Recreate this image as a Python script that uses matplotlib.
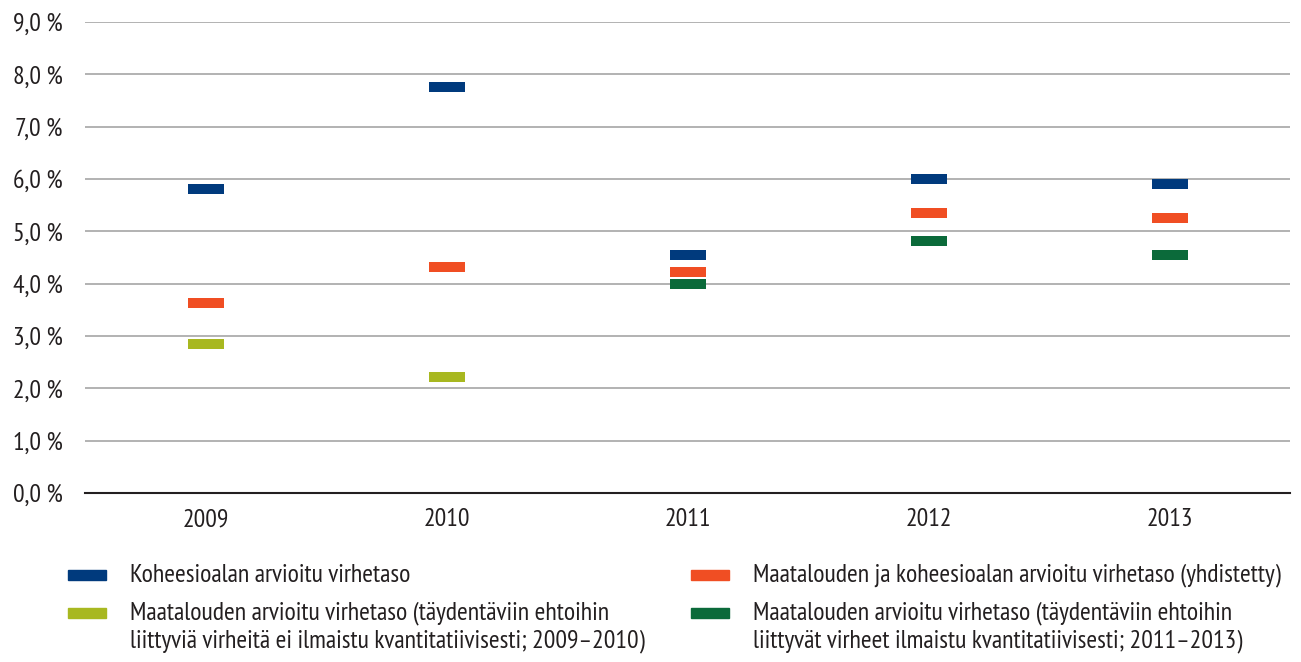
import numpy as np
import matplotlib
matplotlib.use("Agg")
import matplotlib.pyplot as plt
from matplotlib.patches import Rectangle

plt.rcParams['font.family'] = ['PT Sans Narrow', 'DejaVu Sans']

years = ['2009', '2010', '2011', '2012', '2013']
nan = np.nan
# arvioidut virhetasot (%), luettu kuvasta
koheesio = [5.8, 7.76, 4.54, 6.0, 5.9]
yhdistetty = [3.64, 4.31, 4.23, 5.35, 5.25]
maatalous_0910 = [2.85, 2.21, nan, nan, nan]
maatalous_1113 = [nan, nan, 4.0, 4.82, 4.54]
yticks = [0, 1, 2, 3, 4, 5, 6, 7, 8, 9]

labels = [
    'Koheesioalan arvioitu virhetaso',
    'Maatalouden ja koheesioalan arvioitu virhetaso (yhdistetty)',
    'Maatalouden arvioitu virhetaso (täydentäviin ehtoihin\nliittyviä virheitä ei ilmaistu kvantitatiivisesti; 2009–2010)',
    'Maatalouden arvioitu virhetaso (täydentäviin ehtoihin\nliittyvät virheet ilmaistu kvantitatiivisesti; 2011–2013)',
]
colors = ['#003a7d', '#f04e23', '#a8b820', '#0b6a3a']

W, H = 1301, 662
fig = plt.figure(figsize=(W / 100, H / 100), dpi=100)
ax = fig.add_axes([85 / W, 1 - 493 / H, (1290 - 85) / W, (493 - 22) / H])

# leveä matala suorakulmio merkkinä
bar = [(-1, -0.26), (1, -0.26), (1, 0.26), (-1, 0.26), (-1, -0.26)]
x = np.arange(len(years))
for vals, c in zip([koheesio, yhdistetty, maatalous_0910, maatalous_1113], colors):
    ax.plot(x, vals, linestyle='none', marker=bar, markersize=26,
            color=c, markeredgewidth=0, zorder=3)

ax.set_xlim(-0.5, len(years) - 0.5)
ax.set_ylim(0, 9)
ax.set_yticks(yticks)
ax.set_yticklabels(['{:.1f} %'.format(v).replace('.', ',') for v in yticks])
ax.set_xticks(x)
ax.set_xticklabels(years)
ax.tick_params(length=0, labelsize=18.5, colors='#231f20')
ax.tick_params(axis='y', pad=16)
ax.tick_params(axis='x', pad=11)
ax.grid(axis='y', color='#a6a6a6', linewidth=1.2)
ax.set_axisbelow(True)
for s in ['top', 'right', 'left']:
    ax.spines[s].set_visible(False)
ax.spines['bottom'].set_color('#231f20')
ax.spines['bottom'].set_linewidth(1.5)

# selite käsin kahteen sarakkeeseen
pos = [(68, 575), (691, 575), (68, 613), (691, 613)]
for (px, py), lab, c in zip(pos, labels, colors):
    fig.add_artist(Rectangle((px / W, 1 - (py + 5) / H), 38 / W, 10 / H,
                             color=c, transform=fig.transFigure))
    nlines = lab.count('\n')
    fig.text((px + 62) / W, 1 - (py + 14 * nlines) / H, lab, fontsize=18.5,
             color='#231f20', va='center', ha='left', linespacing=1.25)

fig.savefig('out.png', dpi=100)
